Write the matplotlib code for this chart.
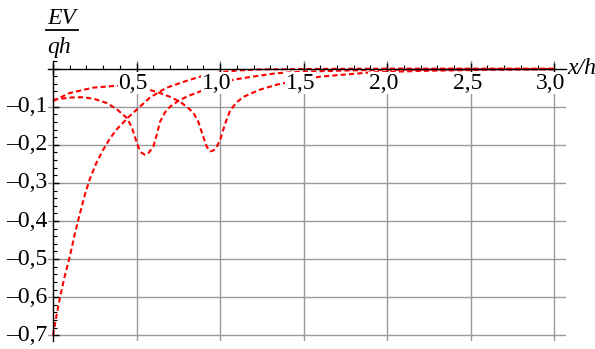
import matplotlib.pyplot as plt
from matplotlib.lines import Line2D
from matplotlib.ticker import MultipleLocator

# === DATA ===
# steep curve rising from -0.7
xa = [0, 0.02, 0.042, 0.07, 0.10, 0.13, 0.16, 0.19, 0.22, 0.26, 0.30, 0.34, 0.38,
      0.45, 0.50, 0.58, 0.68, 0.80, 0.88, 1.0, 1.1, 1.25, 1.5, 2.0, 2.5, 3.0]
ya = [-0.70, -0.65, -0.60, -0.545, -0.494, -0.435, -0.382, -0.332, -0.29, -0.247, -0.213,
      -0.184, -0.16, -0.128, -0.108, -0.076, -0.05, -0.032, -0.021, -0.01, -0.005,
      -0.002, -0.001, 0.0, 0.0, 0.0]

# curve with dip near x/h = 0.55
xb = [0, 0.1, 0.18, 0.25, 0.32, 0.38, 0.44, 0.47, 0.49, 0.51, 0.53, 0.55, 0.57, 0.60,
      0.62, 0.64, 0.67, 0.70, 0.76, 0.82, 0.88, 1.0, 1.08, 1.18, 1.34, 1.5, 1.75, 2.0,
      2.5, 3.0]
yb = [-0.082, -0.076, -0.075, -0.080, -0.090, -0.106, -0.129, -0.152, -0.179, -0.205,
      -0.221, -0.226, -0.222, -0.205, -0.175, -0.140, -0.115, -0.100, -0.082, -0.070,
      -0.060, -0.040, -0.029, -0.022, -0.012, -0.008, -0.005, -0.003, -0.002, -0.001]

# curve with dip near x/h = 0.95
xc = [0, 0.1, 0.24, 0.38, 0.5, 0.58, 0.64, 0.70, 0.76, 0.80, 0.84, 0.87, 0.90, 0.92,
      0.94, 0.96, 0.98, 1.0, 1.03, 1.06, 1.10, 1.14, 1.24, 1.34, 1.45, 1.6, 1.9, 2.2,
      2.6, 3.0]
yc = [-0.085, -0.064, -0.050, -0.045, -0.048, -0.056, -0.064, -0.074, -0.087, -0.100,
      -0.116, -0.140, -0.180, -0.205, -0.217, -0.215, -0.205, -0.187, -0.145, -0.110,
      -0.088, -0.074, -0.055, -0.042, -0.032, -0.021, -0.010, -0.006, -0.003, -0.002]

xticks = [0.5, 1.0, 1.5, 2.0, 2.5, 3.0]
xtick_labels = ["0,5", "1,0", "1,5", "2,0", "2,5", "3,0"]
yticks = [-0.1, -0.2, -0.3, -0.4, -0.5, -0.6, -0.7]
ytick_labels = ["\u20130,1", "\u20130,2", "\u20130,3", "\u20130,4", "\u20130,5", "\u20130,6", "\u20130,7"]

W, H = 595, 349
FONT = "Liberation Serif"
FS = 17

fig = plt.figure(figsize=(W / 100, H / 100), dpi=100)
ax = fig.add_axes([48 / W, 1 - 341 / H, (566 - 48) / W, (341 - 61) / H])
ax.set_xlim(-0.03, 3.07)
ax.set_ylim(-0.715, 0.02)

# grid
for xv in xticks:
    ax.axvline(xv, color="#999999", lw=1, zorder=1)
for yv in yticks:
    ax.axhline(yv, color="#999999", lw=1, zorder=1)

# curves
for xs, ys in [(xa, ya), (xb, yb), (xc, yc)]:
    ax.plot(xs, ys, color="red", lw=1.5, dashes=(2.5, 1.5), zorder=3)

# axes through origin
for side in ["top", "right"]:
    ax.spines[side].set_visible(False)
ax.spines["left"].set_position(("data", 0))
ax.spines["bottom"].set_position(("data", 0))
for side in ["left", "bottom"]:
    ax.spines[side].set_zorder(5)
    ax.spines[side].set_linewidth(1)

ax.xaxis.set_major_locator(MultipleLocator(0.5))
ax.xaxis.set_minor_locator(MultipleLocator(0.1))
ax.yaxis.set_major_locator(MultipleLocator(0.1))
ax.yaxis.set_minor_locator(MultipleLocator(0.02))
ax.tick_params(axis="x", which="major", direction="inout", length=8, width=1)
ax.tick_params(axis="x", which="minor", direction="in", length=3, width=0.8)
ax.tick_params(axis="y", which="major", direction="in", length=4, width=1)
ax.tick_params(axis="y", which="minor", direction="in", length=3, width=0.8)
ax.set_xticklabels([])
ax.set_yticklabels([])

# tick labels with white boxes covering curves
for xv, lab in zip(xticks, xtick_labels):
    ax.text(xv - 0.02, -0.038, lab, ha="center", va="center", family=FONT, fontsize=FS,
            zorder=4, bbox=dict(facecolor="white", edgecolor="none", pad=0.5))
for yv, lab in zip(yticks, ytick_labels):
    ax.text(-0.035, yv, lab, ha="right", va="center", family=FONT, fontsize=FS, zorder=4)

ax.text(3.075, 0.0, "x/h", ha="left", va="center", family=FONT, fontsize=FS,
        style="italic")

# y label as fraction EV / qh
fig.text(47 / W, 1 - 24 / H, "EV", ha="left", va="baseline", family=FONT,
         fontsize=FS, style="italic")
fig.text(47 / W, 1 - 53 / H, "qh", ha="left", va="baseline", family=FONT,
         fontsize=FS, style="italic")
fig.add_artist(Line2D([46 / W, 78 / W], [1 - 29.5 / H, 1 - 29.5 / H], color="black",
                      lw=1.3, transform=fig.transFigure))

fig.savefig("out.png", dpi=100)
plt.close(fig)
